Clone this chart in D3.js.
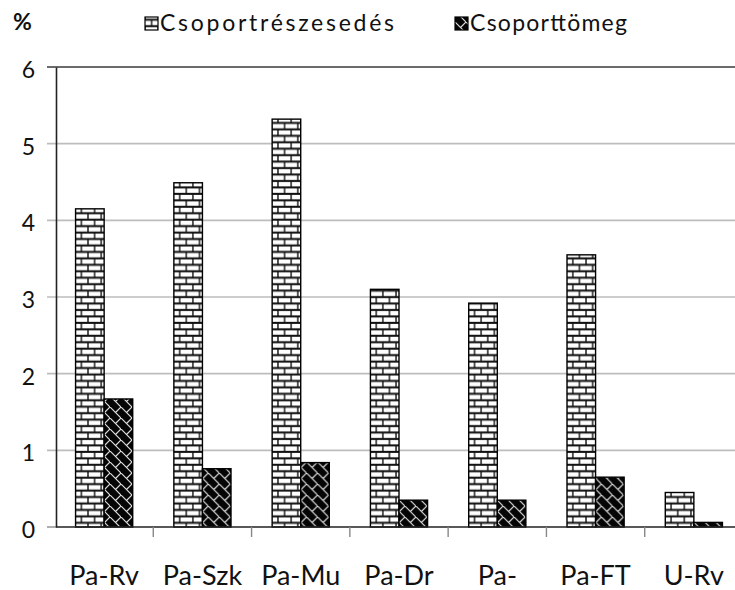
<!DOCTYPE html>
<html>
<head>
<meta charset="utf-8">
<script src="https://cdn.jsdelivr.net/npm/d3@7"></script>
<style>
  html, body { margin: 0; padding: 0; background: #fff; }
  svg { display: block; }
  text { font-family: Lato, "Open Sans", sans-serif; fill: #111; }
</style>
</head>
<body>
<svg id="chart" width="735" height="590"></svg>
<script>
// ---- data ----
const categories = ["Pa-Rv", "Pa-Szk", "Pa-Mu", "Pa-Dr", "Pa-", "Pa-FT", "U-Rv"];
const seriesNames = ["Csoportrészesedés", "Csoporttömeg"];
const shareValues = [4.15, 4.49, 5.32, 3.10, 2.92, 3.55, 0.45];
const massValues  = [1.67, 0.76, 0.84, 0.35, 0.35, 0.65, 0.06];
const yTicks = [0, 1, 2, 3, 4, 5, 6];
const unitLabel = "%";

const seriesValues = [shareValues, massValues];

const svg = d3.select("#chart");
const W = 735, H = 590;
const mLeft = 56, mRight = 743, mTop = 67, mBottom = 527;

const defs = svg.append("defs");
// brick pattern
const brick = defs.append("pattern").attr("id", "brick")
  .attr("patternUnits", "userSpaceOnUse").attr("width", 13.2).attr("height", 12.9)
  .attr("x", 0).attr("y", 0.5);
brick.append("rect").attr("width", 13.2).attr("height", 12.9).attr("fill", "#111");
brick.append("rect").attr("x", 0.7).attr("y", 0.9).attr("width", 11.8).attr("height", 4.4).attr("fill", "#fff");
brick.append("rect").attr("x", -6.6 + 0.7).attr("y", 7.35).attr("width", 11.8).attr("height", 4.4).attr("fill", "#fff");
brick.append("rect").attr("x", 6.6 + 0.7).attr("y", 7.35).attr("width", 11.8).attr("height", 4.4).attr("fill", "#fff");

// dark weave pattern
const weave = defs.append("pattern").attr("id", "weave")
  .attr("patternUnits", "userSpaceOnUse").attr("width", 11).attr("height", 11);
weave.append("rect").attr("width", 11).attr("height", 11).attr("fill", "#050505");
weave.append("path").attr("d", "M0,0 L11,11 M5.5,5.5 L11,0 M-1,1 L1,-1 M10,12 L12,10")
  .attr("stroke", "#dcdcdc").attr("stroke-width", 1.2).attr("fill", "none");

const fills = ["url(#brick)", "url(#weave)"];

// scales
const y = d3.scaleLinear().domain([0, 6]).range([mBottom, mTop]);
const x0 = d3.scaleBand().domain(categories).range([mLeft - 1, mRight]).paddingInner(0).paddingOuter(0);
const x1 = d3.scaleBand().domain(seriesNames).range([0, x0.bandwidth()]).paddingInner(0).paddingOuter(0.72);

// gridlines
svg.append("g").selectAll("line").data(yTicks.filter(d => d > 0 && d < 6)).join("line")
  .attr("x1", mLeft - 9).attr("x2", W + 20)
  .attr("y1", d => y(d)).attr("y2", d => y(d))
  .attr("stroke", "#bdbdbd").attr("stroke-width", 1.6);

// top border line
svg.append("line").attr("x1", mLeft - 9).attr("x2", W + 20).attr("y1", y(6)).attr("y2", y(6))
  .attr("stroke", "#3a3a3a").attr("stroke-width", 1.6);
// zero tick stub
svg.append("line").attr("x1", mLeft - 9).attr("x2", mLeft).attr("y1", y(0)).attr("y2", y(0))
  .attr("stroke", "#999").attr("stroke-width", 1.6);

// bars
const groups = svg.append("g").selectAll("g").data(categories).join("g")
  .attr("transform", d => `translate(${x0(d)},0)`);
groups.selectAll("rect").data((c, i) => seriesNames.map((s, j) => ({ s, j, v: seriesValues[j][i] })))
  .join("rect")
  .attr("x", d => x1(d.s))
  .attr("width", x1.bandwidth())
  .attr("y", d => y(d.v))
  .attr("height", d => y(0) - y(d.v))
  .attr("fill", d => fills[d.j])
  .attr("stroke", "#000").attr("stroke-width", 1.4);

// left axis
const yAxis = d3.axisLeft(y).tickValues(yTicks).tickFormat(d3.format("d")).tickSize(0).tickPadding(0);
const ya = svg.append("g").attr("transform", `translate(${mLeft},0)`).call(yAxis);
ya.select(".domain").attr("stroke", "#222").attr("stroke-width", 1.6);
ya.selectAll("text").attr("x", -21).attr("dy", "0.45em")
  .style("font-size", "23px").style("font-family", "Lato, sans-serif").attr("fill", "#111");

// bottom axis (category separators)
svg.append("line").attr("x1", mLeft).attr("x2", W + 20).attr("y1", y(0)).attr("y2", y(0))
  .attr("stroke", "#222").attr("stroke-width", 1.6);
const bounds = categories.slice(1).map(c => x0(c));
svg.append("g").selectAll("line").data(bounds).join("line")
  .attr("x1", d => d).attr("x2", d => d).attr("y1", y(0)).attr("y2", y(0) + 10)
  .attr("stroke", "#888").attr("stroke-width", 1.4);

const xAxis = d3.axisBottom(x0).tickSize(0).tickPadding(0);
const xa = svg.append("g").attr("transform", `translate(0,${mBottom})`).call(xAxis);
xa.select(".domain").remove();
xa.selectAll("text").attr("y", 58).attr("dy", 0)
  .style("font-size", "27px").style("font-family", "Lato, sans-serif").attr("fill", "#111");

// unit label
svg.append("text").attr("x", 13).attr("y", 30).text(unitLabel)
  .style("font-size", "23px").style("font-weight", "bold");

// legend
const legendX = [145, 455];
const legendTextLen = [234, 157];
const lg = svg.append("g").selectAll("g").data(seriesNames).join("g")
  .attr("transform", (d, i) => `translate(${legendX[i]},0)`);
lg.append("rect").attr("x", 0).attr("y", 17).attr("width", 13).attr("height", 13)
  .attr("fill", (d, i) => fills[i]).attr("stroke", "#000").attr("stroke-width", 1.2);
lg.append("text").attr("x", 15).attr("y", 31).text(d => d)
  .attr("textLength", (d, i) => legendTextLen[i]).attr("lengthAdjust", "spacing")
  .style("font-size", "23px");
</script>
</body>
</html>
